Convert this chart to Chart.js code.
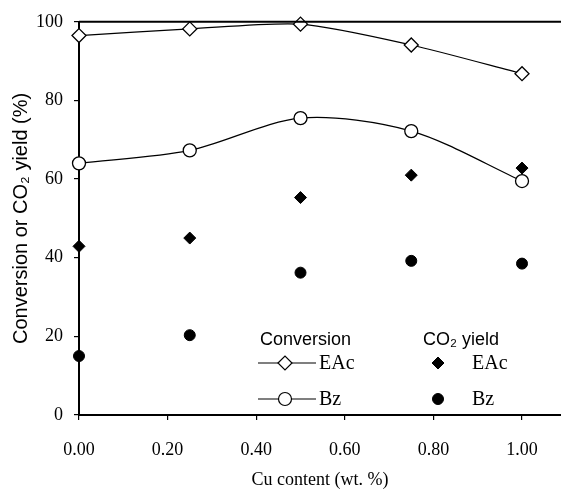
<!DOCTYPE html>
<html>
<head>
  <title>Conversion / CO2 yield vs Cu content</title>
  <script src="https://cdn.jsdelivr.net/npm/chart.js"></script>
  <style>
    html, body { margin: 0; padding: 0; background: #fff; }
    #wrap { width: 561px; height: 491px; }
  </style>
</head>
<body>
  <div id="wrap"><canvas id="chart" width="561" height="491"></canvas></div>

  <script>
    // Cu content (wt. %)
    const cuContent = [0, 0.25, 0.5, 0.75, 1.0];
    // conversion (%)
    const eacConversion = [96.5, 98.2, 99.4, 94.1, 86.8];
    const bzConversion = [64, 67.3, 75.5, 72.2, 59.5];
    // CO2 yield (%)
    const eacCO2 = [42.9, 45, 55.3, 61, 62.8];
    const bzCO2 = [15, 20.3, 36.2, 39.2, 38.5];

    const xTicks = [0, 0.2, 0.4, 0.6, 0.8, 1.0];
    const yTicks = [0, 20, 40, 60, 80, 100];

    const ink = '#000';
    const serif = "'Liberation Serif', 'DejaVu Serif', serif";
    const sans = "'Liberation Sans', 'DejaVu Sans', sans-serif";

    function pts(xs, ys) {
      return xs.map((x, i) => ({ x: x, y: ys[i] }));
    }

    // top frame line + the two-column legend inside the plot
    const extras = {
      id: 'extras',
      afterDraw(chart) {
        const ctx = chart.ctx;
        const a = chart.chartArea;
        ctx.save();
        ctx.strokeStyle = ink;
        ctx.lineWidth = 2;
        ctx.beginPath();
        ctx.moveTo(a.left, a.top);
        ctx.lineTo(a.right, a.top);
        ctx.stroke();

        ctx.fillStyle = ink;
        ctx.textBaseline = 'middle';
        ctx.textAlign = 'left';
        ctx.font = '18px ' + sans;
        ctx.fillText('Conversion', 260, 340);
        ctx.fillText('CO\u2082 yield', 423, 340);

        ctx.font = '20px ' + serif;
        // conversion samples
        const rows = [
          { y: 363, style: 'rectRot', r: 7, text: 'EAc' },
          { y: 399, style: 'circle', r: 6.5, text: 'Bz' }
        ];
        rows.forEach(row => {
          ctx.strokeStyle = ink;
          ctx.lineWidth = 1.2;
          ctx.beginPath();
          ctx.moveTo(258, row.y);
          ctx.lineTo(316, row.y);
          ctx.stroke();
          ctx.fillStyle = '#fff';
          Chart.helpers.drawPoint(ctx, { pointStyle: row.style, radius: row.r, rotation: 0, borderWidth: 1.3 }, 285, row.y);
          ctx.fillStyle = ink;
          ctx.fillText(row.text, 319, row.y + 1);
        });

        // CO2 yield samples
        const rows2 = [
          { y: 363, style: 'rectRot', r: 6, text: 'EAc' },
          { y: 399, style: 'circle', r: 5.5, text: 'Bz' }
        ];
        rows2.forEach(row => {
          ctx.fillStyle = ink;
          ctx.strokeStyle = ink;
          ctx.lineWidth = 1;
          Chart.helpers.drawPoint(ctx, { pointStyle: row.style, radius: row.r, rotation: 0, borderWidth: 1 }, 438, row.y);
          ctx.fillText(row.text, 472, row.y + 1);
        });
        ctx.restore();
      }
    };

    const ctx = document.getElementById('chart').getContext('2d');
    new Chart(ctx, {
      type: 'scatter',
      data: {
        datasets: [
          {
            label: 'Conversion EAc',
            data: pts(cuContent, eacConversion),
            showLine: true,
            tension: 0.25,
            borderColor: ink,
            borderWidth: 1.2,
            pointStyle: 'rectRot',
            pointRadius: 7,
            pointBackgroundColor: '#fff',
            pointBorderColor: ink,
            pointBorderWidth: 1.3
          },
          {
            label: 'Conversion Bz',
            data: pts(cuContent, bzConversion),
            showLine: true,
            tension: 0.3,
            borderColor: ink,
            borderWidth: 1.2,
            pointStyle: 'circle',
            pointRadius: 6.5,
            pointBackgroundColor: '#fff',
            pointBorderColor: ink,
            pointBorderWidth: 1.3
          },
          {
            label: 'CO2 yield EAc',
            data: pts(cuContent, eacCO2),
            showLine: false,
            pointStyle: 'rectRot',
            pointRadius: 6,
            pointBackgroundColor: ink,
            pointBorderColor: ink
          },
          {
            label: 'CO2 yield Bz',
            data: pts(cuContent, bzCO2),
            showLine: false,
            pointStyle: 'circle',
            pointRadius: 5.5,
            pointBackgroundColor: ink,
            pointBorderColor: ink
          }
        ]
      },
      options: {
        responsive: false,
        animation: false,
        clip: false,
        layout: { autoPadding: false, padding: { top: 20, right: 0, left: 0, bottom: 0 } },
        plugins: {
          legend: { display: false },
          tooltip: { enabled: false }
        },
        scales: {
          x: {
            type: 'linear',
            min: 0,
            max: 1.088,
            afterBuildTicks(scale) { scale.ticks = xTicks.map(v => ({ value: v })); },
            afterFit(scale) { scale.height = 76; },
            border: { display: true, color: ink, width: 2 },
            grid: { display: true, drawOnChartArea: false, drawTicks: true, tickLength: 5, color: ink, lineWidth: 1.2 },
            ticks: {
              color: ink,
              font: { family: serif, size: 18 },
              padding: 19,
              maxRotation: 0,
              callback: v => v.toFixed(2)
            },
            title: {
              display: true,
              text: 'Cu content (wt. %)',
              color: ink,
              font: { family: serif, size: 18 },
              padding: { top: 0, bottom: 0 }
            }
          },
          y: {
            type: 'linear',
            min: 0,
            max: 100,
            afterBuildTicks(scale) { scale.ticks = yTicks.map(v => ({ value: v })); },
            afterFit(scale) { scale.width = 79; },
            border: { display: true, color: ink, width: 2 },
            grid: { display: true, drawOnChartArea: false, drawTicks: true, tickLength: 5, color: ink, lineWidth: 1.2 },
            ticks: {
              color: ink,
              font: { family: serif, size: 18 },
              padding: 11
            },
            title: {
              display: true,
              text: 'Conversion or CO\u2082 yield (%)',
              color: ink,
              font: { family: sans, size: 20 },
              padding: { top: 9, bottom: 0 }
            }
          }
        }
      },
      plugins: [extras]
    });
  </script>
</body>
</html>
